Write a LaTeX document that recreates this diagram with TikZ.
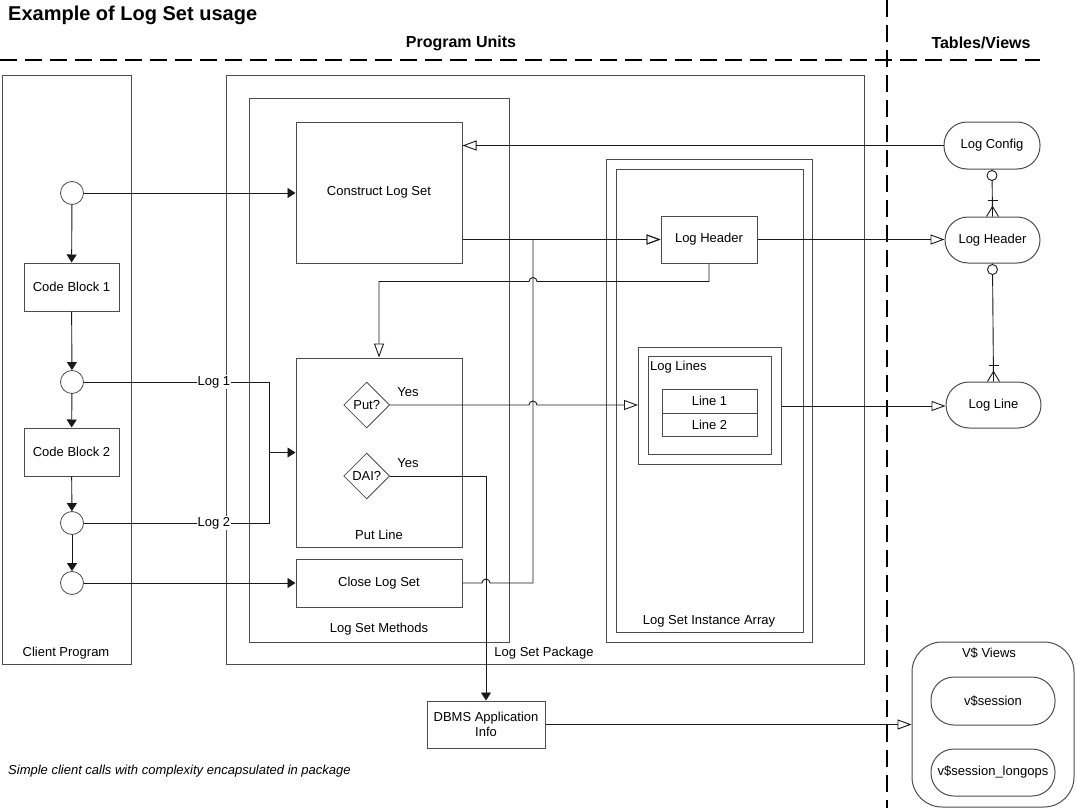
\documentclass[tikz,border=0pt]{standalone}
\usepackage{fontspec}
\setmainfont{Liberation Sans}
\colorlet{BoxLine}{black!70}
\colorlet{LinkLine}{black!90}
\usetikzlibrary{arrows.meta, calc, shapes.geometric}

\begin{document}
\begin{tikzpicture}[x=1pt, y=-1pt, font=\fontsize{13}{15}\selectfont,
    frame/.style={draw=BoxLine, line width=1pt, anchor=north west, inner sep=0pt},
    block/.style={draw=BoxLine, line width=1pt, align=center, inner sep=2pt},
    pill/.style={block, rounded corners=23pt},
    decision/.style={diamond, draw=BoxLine, line width=0.8pt, minimum size=46pt, inner sep=0pt},
    junction/.style={circle, draw=BoxLine, line width=0.8pt, minimum size=23pt, inner sep=0pt},
    link/.style={draw=LinkLine, line width=0.9pt},
    solidarrow/.style={link, -{Triangle[length=8pt, width=10pt]}},
    openarrow/.style={link, -{Triangle[open, length=14pt, width=10pt]}},
    loglabel/.style={fill=white, inner sep=1pt}]

    \useasboundingbox (0,0) rectangle (1077,808);

    % Titulos y separadores
    \node[anchor=west, inner sep=0pt, font=\bfseries\fontsize{20}{24}\selectfont] (title) at (8,15) {Example of Log Set usage};
    \node[font=\bfseries\fontsize{16}{19}\selectfont] (units) at (461,43) {Program Units};
    \node[font=\bfseries\fontsize{16}{19}\selectfont] (tables) at (981,43) {Tables/Views};
    \draw[dash pattern=on 17pt off 8pt, line width=1.2pt] (0,60) -- (1040,60);
    \draw[dash pattern=on 17pt off 8pt, line width=1.2pt] (887,0) -- (887,808);

    % Programa cliente
    \node[frame, minimum width=129pt, minimum height=589pt] (client) at (2,75) {};
    \node (clientlabel) at (66,653) {Client Program};
    \node[junction] (c1) at (72,193) {};
    \node[block, minimum width=95pt, minimum height=48pt] (cb1) at (71.5,287) {Code Block 1};
    \node[junction] (c2) at (72,382) {};
    \node[block, minimum width=95pt, minimum height=48pt] (cb2) at (71.5,452) {Code Block 2};
    \node[junction] (c3) at (72,523) {};
    \node[junction] (c4) at (72,583) {};

    % Paquete y metodos
    \node[frame, minimum width=638pt, minimum height=589pt] (package) at (226,75) {};
    \node (packagelabel) at (544,653) {Log Set Package};
    \node[frame, minimum width=260pt, minimum height=544pt] (methods) at (249,98) {};
    \node (methodslabel) at (379,629) {Log Set Methods};
    \node[block, minimum width=166pt, minimum height=141pt] (construct) at (379,192.5) {Construct Log Set};
    \node[block, minimum width=166pt, minimum height=189pt] (putline) at (379,452.5) {};
    \node (putlabel) at (379,535) {Put Line};
    \node[decision] (put) at (366.7,405) {Put?};
    \node[decision] (dai) at (366.7,476) {DAI?};
    \node (putyes) at (408,392.5) {Yes};
    \node (daiyes) at (408,463.5) {Yes};
    \node[block, minimum width=166pt, minimum height=48pt] (closelog) at (379,583) {Close Log Set};

    % Arreglo de instancias
    \node[frame, minimum width=206pt, minimum height=483pt] (arrayout) at (606,159) {};
    \node[frame, minimum width=187pt, minimum height=463pt] (arrayin) at (616,169) {};
    \node (arraylabel) at (709,621) {Log Set Instance Array};
    \node[block, minimum width=96pt, minimum height=47pt] (header) at (709,239.5) {Log Header};
    \node[frame, minimum width=143pt, minimum height=117pt] (lineso) at (638,347) {};
    \node[frame, minimum width=123pt, minimum height=98pt] (linesi) at (648,356) {};
    \node[anchor=west, inner sep=1pt] (lineslabel) at (649,367) {Log Lines};
    \node[block, minimum width=95pt, minimum height=24pt] (line1) at (709.5,401) {Line 1};
    \node[block, minimum width=95pt, minimum height=23pt] (line2) at (709.5,424.5) {Line 2};

    % Tablas y vistas
    \node[pill, minimum width=96pt, minimum height=47pt] (logconfig) at (992,145.5) {Log Config};
    \node[pill, minimum width=95pt, minimum height=46pt] (tabheader) at (992.5,240) {Log Header};
    \node[pill, minimum width=95pt, minimum height=46pt] (tabline) at (993.5,405) {Log Line};
    \node[block, rounded corners=30pt, minimum width=162pt, minimum height=165pt] (views) at (993,724.5) {};
    \node (viewslabel) at (989,653) {V\$ Views};
    \node[pill, minimum width=124pt, minimum height=48pt] (vsession) at (993,701) {v\$session};
    \node[pill, minimum width=124pt, minimum height=47pt] (vlongops) at (993,772.5) {v\$session\_longops};
    \node[block, minimum width=118pt, minimum height=47pt] (dbms) at (486,724.5) {DBMS Application\\Info};

    \node[anchor=west, inner sep=0pt, font=\itshape\fontsize{13}{15}\selectfont] (note) at (8,771) {Simple client calls with complexity encapsulated in package};

    % Flujo del cliente
    \draw[solidarrow] (c1) -- (cb1);
    \draw[solidarrow] (cb1) -- (c2);
    \draw[solidarrow] (c2) -- (cb2);
    \draw[solidarrow] (cb2) -- (c3);
    \draw[solidarrow] (c3) -- (c4);
    \draw[solidarrow] (c1) -- (construct.west |- c1);
    \draw[solidarrow] (c4) -- (closelog.west |- c4);

    \coordinate (join) at ($(putline.west)+(-26,0)$);
    \draw[link] (c2) -- node[loglabel, pos=0.7] {Log 1} (c2 -| join) -- (join);
    \draw[link] (c3) -- node[loglabel, pos=0.7] {Log 2} (c3 -| join) -- (join);
    \draw[solidarrow] (join) -- (putline.west);

    % Conexiones del paquete (con saltos)
    \coordinate (bus) at (533,0);
    \draw[openarrow] (logconfig.west) -- (construct.east |- logconfig.west);
    \draw[openarrow] (construct.east |- header.west) -- (header.west);
    \draw[openarrow] (closelog.east) -- ($(dbms.north |- closelog.east)+(-4,0)$) arc[start angle=180, end angle=0, radius=4pt]
        -- (bus |- closelog.east) -- (bus |- header.west) -- (header.west);
    \draw[openarrow] (header.south) -- ++(0,18) -- ($(bus |- header.south)+(4,18)$) arc[start angle=0, end angle=180, radius=4pt]
        -- ($(putline.north |- header.south)+(0,18)$) -- (putline.north);
    \draw[openarrow] (put.east) -- ($(bus |- put.east)+(-4,0)$) arc[start angle=180, end angle=0, radius=4pt]
        -- (lineso.west |- put.east);
    \draw[solidarrow] (dai.east) -| (dbms.north);

    \draw[openarrow] (header.east) -- (tabheader.west |- header.east);
    \draw[openarrow] (lineso.east) -- (tabline.west |- lineso.east);
    \draw[openarrow] (dbms.east) -- (views.west |- dbms.east);

    % Relaciones entre tablas
    \foreach \one/\many in {logconfig/tabheader, tabheader/tabline} {
        \draw[link] (\one.south) -- (\many.north);
        \draw[link, fill=white] ($(\one.south)+(0,6)$) circle (5pt);
        \draw[link] ($(\many.north)+(-5,-16)$) -- ($(\many.north)+(5,-16)$);
        \draw[link] ($(\many.north)+(-6,0)$) -- ($(\many.north)+(0,-10)$) -- ($(\many.north)+(6,0)$);
    }
\end{tikzpicture}
\end{document}
